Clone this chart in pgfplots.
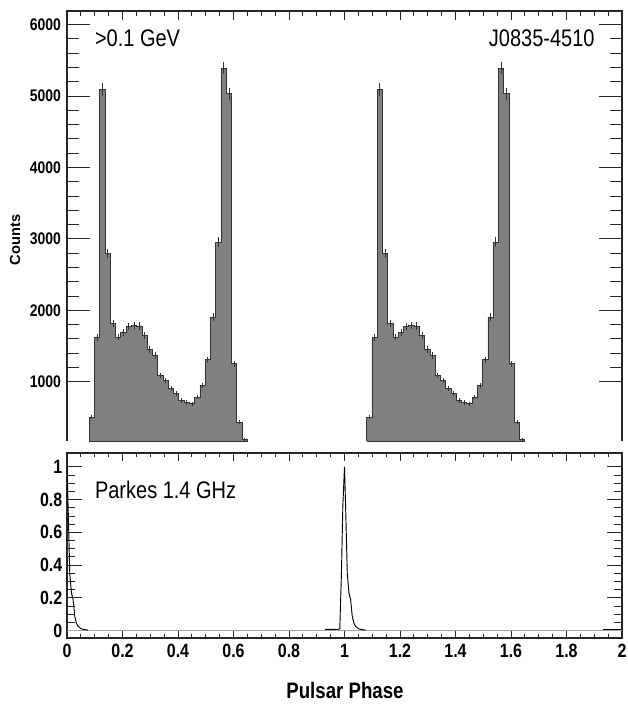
\documentclass[border=0pt]{standalone}
\usepackage{fontspec}
\setmainfont{Liberation Sans}
\usepackage{graphicx}
\usepackage{pgfplots}
\pgfplotsset{compat=1.18}
\usepackage{pgfplotstable}
\newcommand\tall[1]{\scalebox{1}[1.2]{#1}}
\newcommand\tb[1]{\scalebox{1}[1.2]{\bfseries #1}}

% histogram outline (left bin edges), one cycle
\pgfplotstableread{
x y
0.080 170
0.080 500
0.099 1620
0.118 5090
0.137 2795
0.156 1815
0.175 1625
0.194 1695
0.213 1770
0.232 1790
0.251 1780
0.270 1650
0.289 1450
0.308 1368
0.327 1085
0.346 1020
0.365 900
0.384 840
0.403 740
0.422 710
0.441 690
0.460 785
0.479 948
0.498 1308
0.517 1905
0.536 2955
0.555 5390
0.574 5030
0.593 1252
0.612 434
0.631 190
0.650 190
0.650 170
0.080 170
}\histo

% bin centres with counts and errors
\pgfplotstableread{
xc y e
0.0895 500 27
0.1085 1620 48
0.1275 5090 86
0.1465 2795 63
0.1655 1815 51
0.1845 1625 48
0.2035 1695 49
0.2225 1770 50
0.2415 1790 51
0.2605 1780 51
0.2795 1650 49
0.2985 1450 46
0.3175 1368 44
0.3365 1085 40
0.3555 1020 38
0.3745 900 36
0.3935 840 35
0.4125 740 33
0.4315 710 32
0.4505 690 32
0.4695 785 34
0.4885 948 37
0.5075 1308 43
0.5265 1905 52
0.5455 2955 65
0.5645 5390 88
0.5835 5030 85
0.6025 1252 42
0.6215 434 25
0.6405 190 17
}\bins

\pgfplotstableread{
x y
0.000 1.000
0.004 0.760
0.010 0.350
0.016 0.230
0.022 0.190
0.028 0.087
0.034 0.045
0.040 0.026
0.052 0.010
0.076 0.003
}\radioA

\pgfplotstableread{
x y
0.930 0.008
0.975 0.008
0.983 0.010
0.989 0.350
0.994 0.760
1.000 1.000
1.004 0.760
1.010 0.350
1.016 0.230
1.022 0.190
1.028 0.087
1.034 0.045
1.040 0.026
1.052 0.010
1.076 0.003
}\radioB

\pgfplotstableread{
x y
1.930 0.008
2.000 0.008
}\radioC

\pgfplotstableread{
x y
0.000 0.000
2.000 0.000
}\radioBase

\begin{document}
\begin{tikzpicture}[x=1pt,y=1pt]
\path[use as bounding box] (0,0) rectangle (471,533.25);

\begin{axis}[
  at={(50.25pt,202.5pt)}, anchor=south west,
  scale only axis, width=416.25pt, height=322.5pt,
  xmin=0, xmax=2, ymin=170, ymax=6190,
  clip=false,
  axis line style={draw=none},
  xtick pos=right, ytick pos=both,
  xtick={0,0.2,0.4,0.6,0.8,1,1.2,1.4,1.6,1.8,2},
  xticklabels={},
  minor x tick num=3,
  ytick={1000,2000,3000,4000,5000,6000},
  yticklabels={\tb{1000},\tb{2000},\tb{3000},\tb{4000},\tb{5000},\tb{6000}},
  minor y tick num=4,
  tick align=inside,
  tick style={black!85, line width=0.6pt},
  xtick style={/pgfplots/major tick length=6.75pt,/pgfplots/minor tick length=3.75pt},
  ytick style={/pgfplots/major tick length=17pt,/pgfplots/minor tick length=9pt},
  yticklabel style={font=\fontsize{10.5}{12}\selectfont, xshift=-1pt},
]
\addplot[const plot mark left, fill=gray, draw=black!80, line width=0.6pt] table[x=x,y=y] {\histo};
\addplot[const plot mark left, fill=gray, draw=black!80, line width=0.6pt] table[x expr=\thisrow{x}+1,y=y] {\histo};
\addplot[draw=none, mark=none,
  error bars/.cd, y dir=both, y explicit, error mark=none,
  error bar style={black!80, line width=0.6pt}] table[x=xc,y=y,y error=e] {\bins};
\addplot[draw=none, mark=none,
  error bars/.cd, y dir=both, y explicit, error mark=none,
  error bar style={black!80, line width=0.6pt}] table[x expr=\thisrow{xc}+1,y=y,y error=e] {\bins};
\draw[black!85, line width=0.9pt] (rel axis cs:0,0) -- (rel axis cs:0,1) -- (rel axis cs:1,1) -- (rel axis cs:1,0);
\node[anchor=west, inner sep=0pt] at (rel axis cs:0.05,0.937) {\fontsize{15}{18}\selectfont\tall{>0.1 GeV}};
\node[anchor=east, inner sep=0pt] at (rel axis cs:0.951,0.937) {\fontsize{15}{18}\selectfont\tall{J0835-4510}};
\end{axis}

\begin{axis}[
  at={(50.25pt,54.75pt)}, anchor=south west,
  scale only axis, width=416.25pt, height=138.75pt,
  xmin=0, xmax=2, ymin=-0.045, ymax=1.084,
  axis line style={black!85, line width=0.9pt},
  xtick pos=both, ytick pos=both,
  xticklabel pos=lower, yticklabel pos=left,
  xtick={0,0.2,0.4,0.6,0.8,1,1.2,1.4,1.6,1.8,2},
  xticklabels={\tb{0},\tb{0.2},\tb{0.4},\tb{0.6},\tb{0.8},\tb{1},\tb{1.2},\tb{1.4},\tb{1.6},\tb{1.8},\tb{2}},
  minor x tick num=3,
  ytick={0,0.2,0.4,0.6,0.8,1},
  yticklabels={\tb{0},\tb{0.2},\tb{0.4},\tb{0.6},\tb{0.8},\tb{1}},
  minor y tick num=3,
  tick align=inside,
  tick style={black!85, line width=0.6pt},
  xtick style={/pgfplots/major tick length=6pt,/pgfplots/minor tick length=3pt},
  ytick style={/pgfplots/major tick length=11pt,/pgfplots/minor tick length=6pt},
  ticklabel style={font=\fontsize{12}{14}\selectfont},
  xticklabel style={yshift=-1pt},
]
\addplot[gray!70, line width=1.2pt] table[x=x,y=y] {\radioBase};
\addplot[black, line width=0.7pt] table[x=x,y=y] {\radioA};
\addplot[black, line width=0.7pt] table[x=x,y=y] {\radioB};
\addplot[black, line width=0.7pt] table[x=x,y=y] {\radioC};
\node[anchor=west, inner sep=0pt] at (rel axis cs:0.05,0.80) {\fontsize{15}{18}\selectfont\tall{Parkes 1.4 GHz}};
\end{axis}

\node[rotate=90] at (11.25,353.25) {\fontsize{11}{13}\selectfont\bfseries Counts};
\node at (258.75,15.75) {\fontsize{14}{16}\selectfont\tb{Pulsar Phase}};
\end{tikzpicture}
\end{document}
